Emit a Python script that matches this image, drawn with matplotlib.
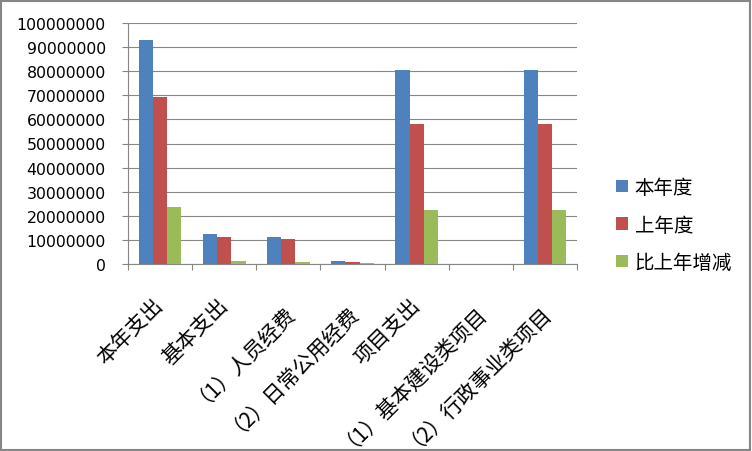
import matplotlib
matplotlib.use("Agg")
import matplotlib.pyplot as plt
import numpy as np
from matplotlib.patches import Rectangle

plt.rcParams['font.family'] = ['Noto Sans CJK SC', 'DejaVu Sans']

categories = ["本年支出", "基本支出", "（1）人员经费", "（2）日常公用经费",
              "项目支出", "（1）基本建设类项目", "（2）行政事业类项目"]
series_names = ["本年度", "上年度", "比上年增减"]
this_year = [93000000, 12300000, 11100000, 1200000, 80700000, 0, 80700000]
last_year = [69300000, 11100000, 10300000, 800000, 58200000, 0, 58200000]
change = [23700000, 1200000, 800000, 400000, 22500000, 0, 22500000]
colors = ["#4F81BD", "#C0504D", "#9BBB59"]
grid_color = "#868686"

fig = plt.figure(figsize=(7.52, 4.52), dpi=100)
ax = fig.add_axes([128 / 752, 1 - 265 / 452, 449 / 752, 241 / 452])

x = np.arange(len(categories))
w = 1 / 4.5
for i, vals in enumerate([this_year, last_year, change]):
    ax.bar(x + (i - 1) * w, vals, width=w, color=colors[i], label=series_names[i], zorder=3)

ax.set_xlim(-0.5, len(categories) - 0.5)
ax.set_ylim(0, 100000000)
ax.set_yticks(np.arange(0, 100000001, 10000000))
ax.set_yticklabels([str(v) for v in range(0, 100000001, 10000000)],
                   family='DejaVu Sans', fontsize=11.3)
ax.yaxis.grid(True, color=grid_color, linewidth=0.8, zorder=0)

for s in ['top', 'right']:
    ax.spines[s].set_visible(False)
for s in ['left', 'bottom']:
    ax.spines[s].set_color(grid_color)
    ax.spines[s].set_linewidth(0.8)

ax.tick_params(axis='y', length=4, width=0.8, color=grid_color, pad=12)
ax.set_xticks(np.arange(-0.5, len(categories)), minor=False)
ax.set_xticklabels([])
ax.tick_params(axis='x', length=4, width=0.8, color=grid_color, direction='out')
ax.set_xticks(x, minor=True)
ax.set_xticklabels(categories, minor=True, rotation=45, ha='right',
                   rotation_mode='anchor', fontsize=15, va='center')
ax.tick_params(axis='x', which='minor', length=0, pad=27)

leg = ax.legend(loc='center left', bbox_to_anchor=(606 / 752, 1 - 226 / 452),
                bbox_transform=fig.transFigure, frameon=False, fontsize=14,
                handlelength=0.62, handleheight=0.62, handletextpad=0.35,
                labelspacing=0.85, borderpad=0)

fig.patches.append(Rectangle((1 / 752, 1.5 / 452), 749 / 752, 449 / 452,
                             transform=fig.transFigure, fill=False,
                             edgecolor=grid_color, linewidth=1.5))

fig.savefig("out.png", dpi=100)
